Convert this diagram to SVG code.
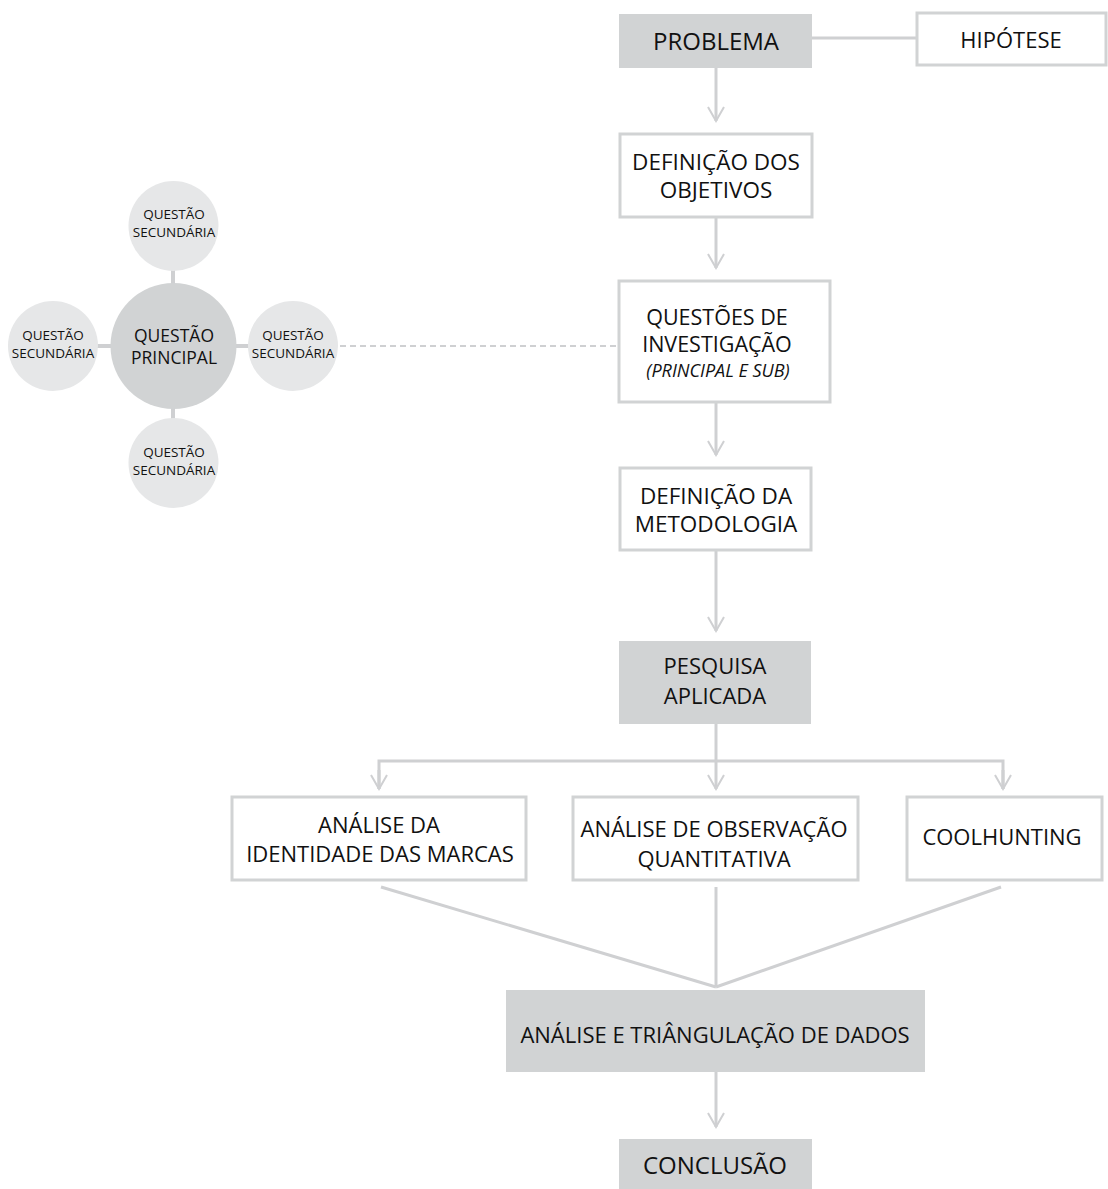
<svg xmlns="http://www.w3.org/2000/svg" width="1108" height="1189" viewBox="0 0 1108 1189">
<defs>
<style>
.t{font-family:"Open Sans","Noto Sans","DejaVu Sans",sans-serif;fill:#111111;text-anchor:middle}
.f23{font-size:22.5px}
.f24{font-size:24px}
.f22{font-size:22px}
.q{font-size:21.5px}
.it{font-size:18px;font-style:italic}
.sm{font-size:13.5px}
.pr{font-size:17.5px}
.gray{fill:#d1d3d4}
.white{fill:#ffffff;stroke:#d1d3d4;stroke-width:3}
.sc{fill:#e6e7e8}
.mc{fill:#d1d3d4}
.ln{fill:none;stroke:#cfd0d2;stroke-width:3}
.arr{fill:none;stroke:#cfd0d2;stroke-width:3;marker-end:url(#ah)}
.dash{fill:none;stroke:#cfd0d2;stroke-width:2;stroke-dasharray:6 4}
.stub{fill:none;stroke:#cfd0d2;stroke-width:4}
</style>
<marker id="ah" viewBox="-16 -10 18 20" refX="0" refY="0" markerWidth="18" markerHeight="20" markerUnits="userSpaceOnUse" orient="auto">
<path d="M-14,-8 L0,0 L-14,8" fill="none" stroke="#cfd0d2" stroke-width="2"/>
</marker>
</defs>
<rect width="1108" height="1189" fill="#ffffff"/>

<g id="connectors">
<line class="ln" x1="812" y1="38" x2="916" y2="38"/>
<line class="arr" x1="716" y1="68" x2="716" y2="121"/>
<line class="arr" x1="716" y1="217" x2="716" y2="268"/>
<line class="arr" x1="716" y1="403" x2="716" y2="455"/>
<line class="arr" x1="716" y1="551" x2="716" y2="631"/>
<line class="arr" x1="716" y1="724" x2="716" y2="789"/>
<polyline class="ln" points="379,789 379,761 1003,761 1003,789"/>
<line class="arr" x1="379" y1="770" x2="379" y2="789"/>
<line class="arr" x1="1003" y1="770" x2="1003" y2="789"/>
<line class="ln" x1="381" y1="887" x2="716" y2="987"/>
<line class="ln" x1="716" y1="887" x2="716" y2="987"/>
<line class="ln" x1="1001" y1="887" x2="716" y2="987"/>
<line class="arr" x1="716" y1="1072" x2="716" y2="1127"/>
<line class="dash" x1="340" y1="346" x2="616" y2="346"/>
<line class="stub" x1="173" y1="270" x2="173" y2="284"/>
<line class="stub" x1="173" y1="408" x2="173" y2="420"/>
<line class="stub" x1="97" y1="346" x2="111" y2="346"/>
<line class="stub" x1="236" y1="346" x2="249" y2="346"/>
</g>

<g id="problema">
<rect class="gray" x="619" y="14" width="193" height="54"/>
<text class="t f24" x="716" y="50">PROBLEMA</text>
</g>
<g id="hipotese">
<rect class="white" x="917" y="13" width="189" height="52"/>
<text class="t f22" x="1011" y="48">HIPÓTESE</text>
</g>
<g id="objetivos">
<rect class="white" x="620" y="134" width="192" height="83"/>
<text class="t f23" x="716" y="170">DEFINIÇÃO DOS</text>
<text class="t f23" x="716" y="198">OBJETIVOS</text>
</g>
<g id="questoes">
<rect class="white" x="619" y="281" width="211" height="121"/>
<text class="t q" x="717" y="325">QUESTÕES DE</text>
<text class="t q" x="717" y="352">INVESTIGAÇÃO</text>
<text class="t it" x="718" y="377">(PRINCIPAL E SUB)</text>
</g>
<g id="metodologia">
<rect class="white" x="620" y="468" width="191" height="82"/>
<text class="t f23" x="716" y="504">DEFINIÇÃO DA</text>
<text class="t f23" x="716" y="532">METODOLOGIA</text>
</g>
<g id="pesquisa">
<rect class="gray" x="619" y="641" width="192" height="83"/>
<text class="t f22" x="715" y="674">PESQUISA</text>
<text class="t f22" x="715" y="704">APLICADA</text>
</g>
<g id="identidade">
<rect class="white" x="232" y="797" width="294" height="83"/>
<text class="t f22" x="379" y="833">ANÁLISE DA</text>
<text class="t f22" x="380" y="862">IDENTIDADE DAS MARCAS</text>
</g>
<g id="observacao">
<rect class="white" x="573" y="797" width="285" height="83"/>
<text class="t f22" x="714" y="837">ANÁLISE DE OBSERVAÇÃO</text>
<text class="t f22" x="714" y="867">QUANTITATIVA</text>
</g>
<g id="coolhunting">
<rect class="white" x="907" y="797" width="195" height="83"/>
<text class="t f22" x="1002" y="845">COOLHUNTING</text>
</g>
<g id="triangulacao">
<rect class="gray" x="506" y="990" width="419" height="82"/>
<text class="t f22" x="715" y="1043">ANÁLISE E TRIÂNGULAÇÃO DE DADOS</text>
</g>
<g id="conclusao">
<rect class="gray" x="619" y="1139" width="193" height="50"/>
<text class="t f24" x="715" y="1174">CONCLUSÃO</text>
</g>

<g id="questao-principal">
<circle class="mc" cx="173.5" cy="346" r="63"/>
<text class="t pr" x="174" y="342">QUESTÃO</text>
<text class="t pr" x="174" y="364">PRINCIPAL</text>
</g>
<g id="secundaria-top">
<circle class="sc" cx="173.5" cy="226" r="45"/>
<text class="t sm" x="174" y="219">QUESTÃO</text>
<text class="t sm" x="174" y="237">SECUNDÁRIA</text>
</g>
<g id="secundaria-left">
<circle class="sc" cx="53" cy="346" r="45"/>
<text class="t sm" x="53" y="340">QUESTÃO</text>
<text class="t sm" x="53" y="358">SECUNDÁRIA</text>
</g>
<g id="secundaria-right">
<circle class="sc" cx="293" cy="346" r="45"/>
<text class="t sm" x="293" y="340">QUESTÃO</text>
<text class="t sm" x="293" y="358">SECUNDÁRIA</text>
</g>
<g id="secundaria-bottom">
<circle class="sc" cx="173.5" cy="463" r="45"/>
<text class="t sm" x="174" y="457">QUESTÃO</text>
<text class="t sm" x="174" y="475">SECUNDÁRIA</text>
</g>
</svg>
